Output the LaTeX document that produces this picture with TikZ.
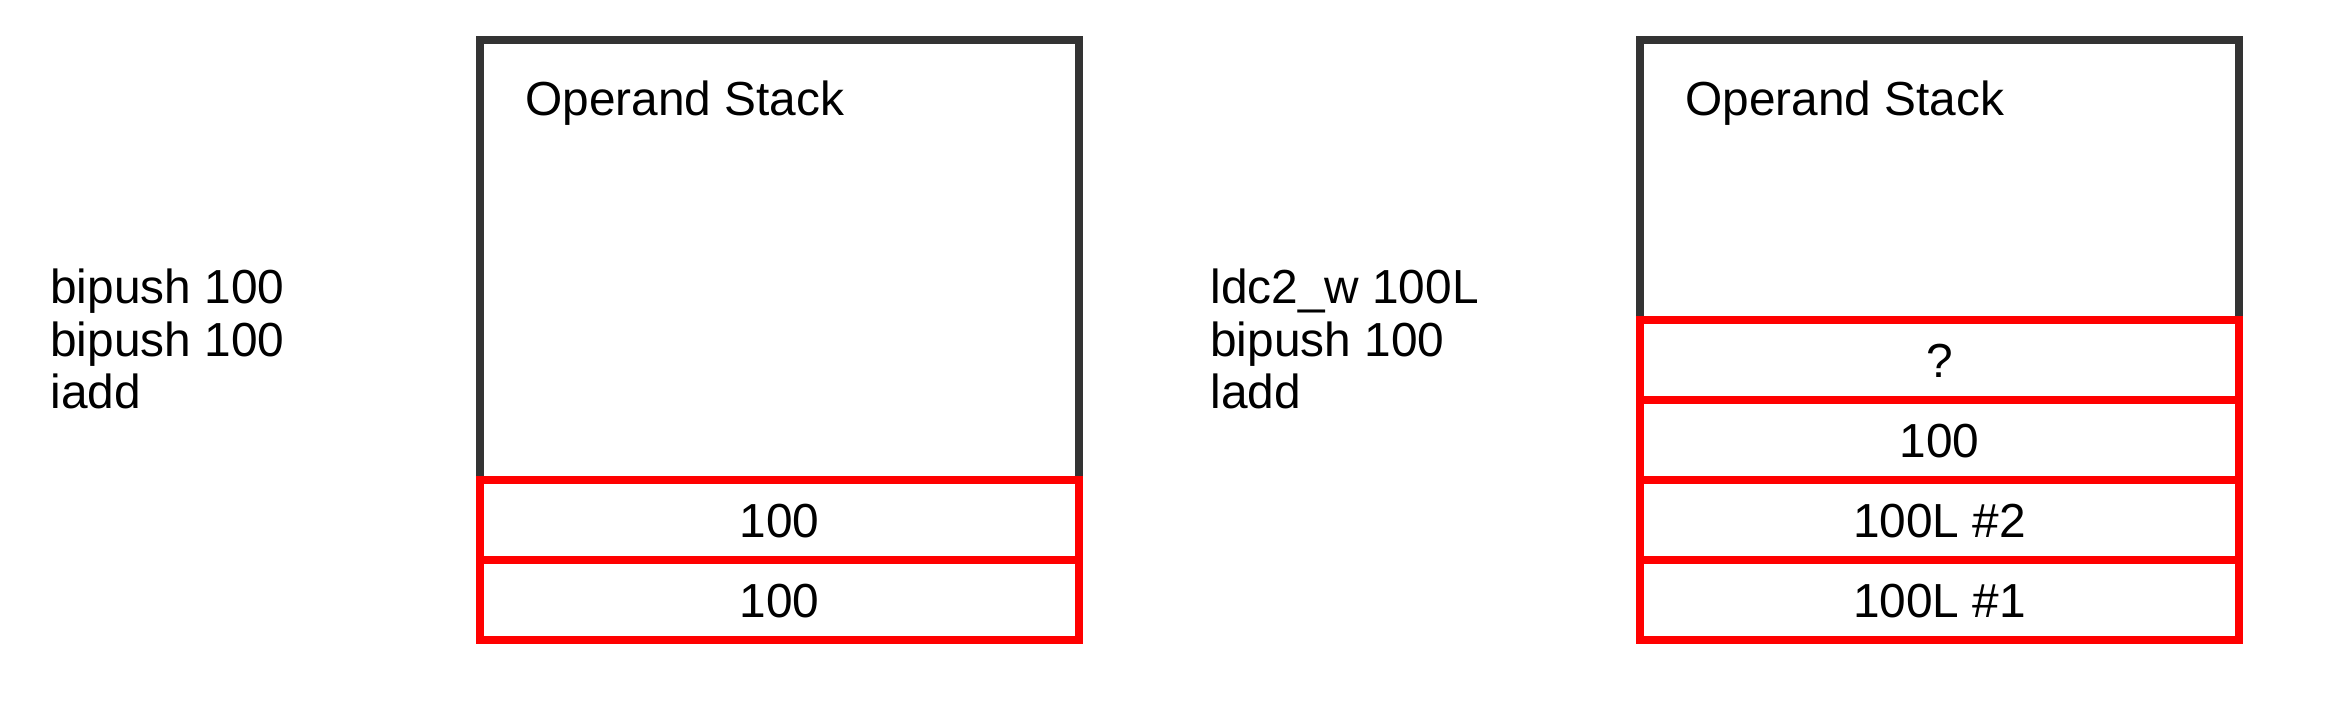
\documentclass[tikz,border=0pt]{standalone}
\usepackage{fontspec}
\setmainfont{Liberation Sans}
\definecolor{stackgray}{HTML}{333333}
\definecolor{cellred}{HTML}{FF0000}
\begin{document}
\begin{tikzpicture}[x=0.5pt,y=-0.5pt,
  stackbox/.style={draw=stackgray, line width=4pt, minimum width=299.5pt, minimum height=300pt, inner sep=0pt, outer sep=0pt},
  cellbox/.style={draw=cellred, line width=4pt, minimum width=299.5pt, minimum height=40pt, inner sep=0pt, outer sep=0pt, text height=17pt, text depth=0pt, font=\fontsize{23.9pt}{28pt}\selectfont},
  codetext/.style={anchor=base west, inner sep=0pt, font=\fontsize{23.9pt}{28pt}\selectfont},
  titletext/.style={anchor=base west, inner sep=0pt, font=\fontsize{23.9pt}{28pt}\selectfont}]
\useasboundingbox (0,0) rectangle (2344,720);
% left
\node[stackbox] (stackA) at (779.5,340) {};
\node[titletext] (titleA) at (525,115) {Operand Stack};
\node[cellbox] (a1) at (779.5,520) {100};
\node[cellbox] (a2) at (779.5,600) {100};
\node[codetext] (ca1) at (50,303) {bipush 100};
\node[codetext] (ca2) at (50,356) {bipush 100};
\node[codetext] (ca3) at (50,408) {iadd};
% right
\node[stackbox] (stackB) at (1939.5,340) {};
\node[titletext] (titleB) at (1685,115) {Operand Stack};
\node[cellbox] (b1) at (1939.5,360) {?};
\node[cellbox] (b2) at (1939.5,440) {100};
\node[cellbox] (b3) at (1939.5,520) {100L \#2};
\node[cellbox] (b4) at (1939.5,600) {100L \#1};
\node[codetext] (cb1) at (1210,303) {ldc2\_w 100L};
\node[codetext] (cb2) at (1210,356) {bipush 100};
\node[codetext] (cb3) at (1210,408) {ladd};
\end{tikzpicture}
\end{document}
